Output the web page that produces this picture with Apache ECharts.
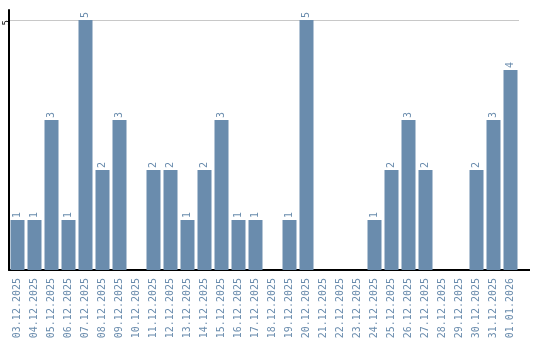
<!DOCTYPE html>
<html><head><meta charset="utf-8">
<script src="https://cdn.jsdelivr.net/npm/echarts@6/dist/echarts.min.js"></script>
<style>html,body{margin:0;padding:0;background:#fff}#c{width:540px;height:340px}</style>
</head><body><div id="c"></div>
<script>
const categories = ["03.12.2025","04.12.2025","05.12.2025","06.12.2025","07.12.2025","08.12.2025","09.12.2025","10.12.2025","11.12.2025","12.12.2025","13.12.2025","14.12.2025","15.12.2025","16.12.2025","17.12.2025","18.12.2025","19.12.2025","20.12.2025","21.12.2025","22.12.2025","23.12.2025","24.12.2025","25.12.2025","26.12.2025","27.12.2025","28.12.2025","29.12.2025","30.12.2025","31.12.2025","01.01.2026"];
const values = [1,1,3,1,5,2,3,0,2,2,1,2,3,1,1,0,1,5,0,0,0,1,2,3,2,0,0,2,3,4];
const yTicks = [5];

const blue = '#6a8cad';
const chart = echarts.init(document.getElementById('c'));
chart.setOption({
  animation: false,
  grid: {left: 9, top: 10, width: 510, bottom: 70, containLabel: false, outerBoundsMode: 'none'},
  xAxis: {
    type: 'category', data: categories,
    axisLine: {lineStyle: {color: '#000', width: 2}},
    axisTick: {show: false},
    axisLabel: {rotate: 90, color: blue, fontFamily: 'DejaVu Sans Mono', fontSize: 10, margin: 8, interval: 0}
  },
  yAxis: {
    type: 'value', min: 0, max: 5.2, interval: 5,
    axisLine: {show: true, lineStyle: {color: '#000', width: 2}},
    axisTick: {show: false},
    splitLine: {showMaxLine: false, lineStyle: {color: '#c8c8c8', width: 1}},
    axisLabel: {rotate: 90, margin: -2, align: 'right', verticalAlign: 'bottom', color: '#000',
      fontFamily: 'DejaVu Sans Mono', fontSize: 9, showMaxLabel: false,
      formatter: v => yTicks.includes(v) ? String(v) : ''}
  },
  series: [{
    type: 'bar', data: values.map(v => v === 0 ? null : v), barWidth: 14,
    itemStyle: {color: blue},
    label: {show: true, position: 'top', rotate: 90, align: 'left', verticalAlign: 'middle', distance: 2,
      color: blue, fontFamily: 'DejaVu Sans Mono', fontSize: 10}
  }],
  graphic: [{type: 'line', shape: {x1: 519, y1: 270, x2: 530, y2: 270}, style: {stroke: '#000', lineWidth: 2}}]
});
</script></body></html>
